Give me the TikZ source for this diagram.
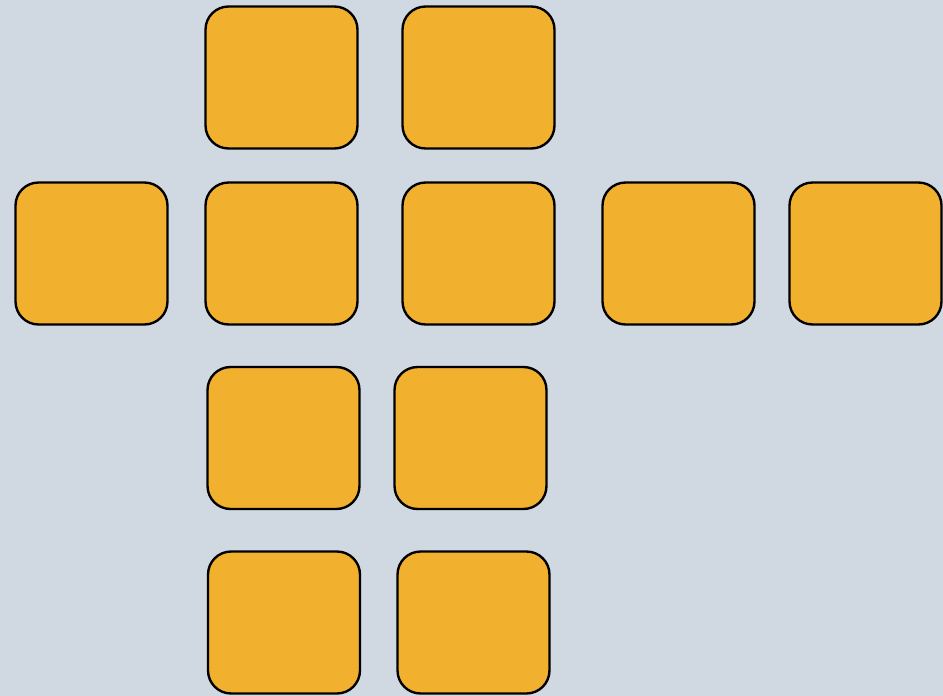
\documentclass[tikz,border=0pt]{standalone}
\usepackage{tikz}

\definecolor{bgblue}{HTML}{D0D8E1}
\definecolor{tileorange}{HTML}{F1B02D}

\tikzset{
  tile/.style={draw=black, fill=tileorange, line width=1.35pt,
    rounded corners=0.46cm, minimum width=3.04cm, minimum height=2.84cm,
    inner sep=0pt}
}

\begin{document}
\begin{tikzpicture}[x=0.02cm, y=-0.02cm]
  % 背景
  \fill[bgblue] (0,0) rectangle (943,696);
  \useasboundingbox (0,0) rectangle (943,696);

  % 上段
  \foreach \n/\x in {t1/281.5, t2/478.5} {
    \node[tile] (\n) at (\x,77.5) {};
  }

  % 中段（横一列）
  \foreach \n/\x in {m1/91.5, m2/281.5, m3/478.5, m4/678.5, m5/865.5} {
    \node[tile] (\n) at (\x,253.5) {};
  }

  % 下の二段
  \node[tile] (b1) at (283.5,438) {};
  \node[tile] (b2) at (470.5,438) {};
  \node[tile] (f1) at (284,622.5) {};
  \node[tile] (f2) at (473.5,622.5) {};

\end{tikzpicture}
\end{document}
